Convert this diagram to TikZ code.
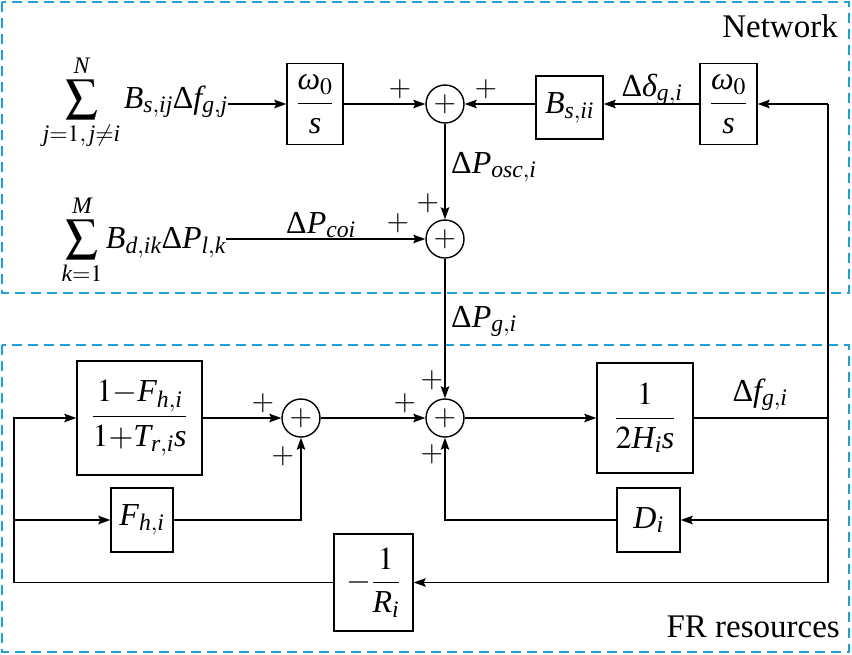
\documentclass[tikz,border=0pt]{standalone}
\usepackage{amsmath}
\usepackage{mathptmx}
\usepackage{fontspec}
\setmainfont{Liberation Serif}
\DeclareSymbolFont{tlet}{TU}{\rmdefault}{m}{it}
\newcommand\deflet[1]{\DeclareMathSymbol{#1}{\mathalpha}{tlet}{`#1}}
\deflet{B}\deflet{s}\deflet{i}\deflet{j}\deflet{f}\deflet{g}\deflet{N}
\deflet{k}\deflet{M}\deflet{d}\deflet{l}\deflet{P}\deflet{o}\deflet{c}
\deflet{F}\deflet{h}\deflet{T}\deflet{r}\deflet{R}\deflet{H}\deflet{D}
\newcommand\gom{\mbox{\itshape ω}}
\newcommand\gdel{\mbox{\itshape δ}}
\newcommand\gDel{\mbox{\upshape Δ}}
\usetikzlibrary{arrows.meta}
\definecolor{dashblue}{RGB}{30,160,220}
\begin{document}
\begin{tikzpicture}[x=1pt,y=-1pt,
  every node/.style={font=\fontsize{32}{38}\selectfont, inner sep=0pt},
  blk/.style={draw, line width=1.4pt},
  sumc/.style={draw, circle, line width=1.4pt, minimum size=38pt, font=\fontsize{29}{34}\selectfont},
  conn/.style={line width=1.4pt},
  arr/.style={conn, -{Stealth[length=12pt,width=8.5pt,inset=2pt]}},
  region/.style={draw=dashblue, line width=2pt, dash pattern=on 10pt off 6pt},
  sgn/.style={font=\fontsize{29}{34}\selectfont},
  lbl/.style={font=\fontsize{33}{40}\selectfont}
]
\useasboundingbox (0,0) rectangle (852,654);
\draw[region] (2,2) rectangle (849,293);
\draw[region] (2,345) rectangle (849,652);
\node[lbl, anchor=base east] (netlbl) at (838,37) {Network};
\node[lbl, anchor=base east] (frlbl) at (840,637) {FR resources};

% summing junctions
\node[sumc] (c1) at (445,104) {$+$};
\node[sumc] (c2) at (445,239) {$+$};
\node[sumc] (c3) at (445,418) {$+$};
\node[sumc] (c4) at (301,418) {$+$};

% blocks
\node[blk, minimum width=56pt, minimum height=81pt] (w1) at (315,104) {$\displaystyle\frac{\gom_0}{s}$};
\node[blk, minimum width=67pt, minimum height=63pt] (Bs) at (569.5,107.5) {$B_{s,ii}$};
\node[blk, minimum width=57pt, minimum height=81pt] (w2) at (728.5,104) {$\displaystyle\frac{\gom_0}{s}$};
\node[blk, minimum width=125pt, minimum height=114pt] (G1) at (139.5,418) {$\displaystyle\frac{1{-}F_{h,i}}{1{+}T_{r,i}s}$};
\node[blk, minimum width=62pt, minimum height=64pt] (Fb) at (142,520) {$F_{h,i}$};
\node[blk, minimum width=79pt, minimum height=97pt] (Rb) at (373.5,582.5) {$-\displaystyle\frac{1}{R_i}$};
\node[blk, minimum width=96pt, minimum height=110pt] (Hb) at (645,418) {$\displaystyle\frac{1}{2H_i s}$};
\node[blk, minimum width=63pt, minimum height=64pt] (Db) at (648.5,520) {$D_i$};

% inputs
\node[anchor=base east] (sum1) at (228,108) {$\displaystyle\sum_{j=1,\,j\neq i}^{N} B_{s,ij}\gDel f_{g,j}$};
\node[anchor=base east] (sum2) at (226,248) {$\displaystyle\sum_{k=1}^{M} B_{d,ik}\gDel P_{l,k}$};

% signal labels
\node[anchor=base] (ldelta) at (652,96) {$\gDel\gdel_{g,i}$};
\node[anchor=base west] (losc) at (451,173) {$\gDel P_{osc,i}$};
\node[anchor=base] (lcoi) at (321,233) {$\gDel P_{coi}$};
\node[anchor=base west] (lpg) at (451,327) {$\gDel P_{g,i}$};
\node[anchor=base] (lfg) at (760,401) {$\gDel f_{g,i}$};

% signs
\node[sgn] (s1) at (400,89) {$+$};
\node[sgn] (s2) at (486,89) {$+$};
\node[sgn] (s3) at (428,203) {$+$};
\node[sgn] (s4) at (398,223) {$+$};
\node[sgn] (s5) at (263,403) {$+$};
\node[sgn] (s6) at (283,456) {$+$};
\node[sgn] (s7) at (405,403) {$+$};
\node[sgn] (s8) at (432,380) {$+$};
\node[sgn] (s9) at (432,454) {$+$};

% routing points
\coordinate (tr) at (828,104);
\coordinate (mr) at (828,418);
\coordinate (dr) at (828,520);
\coordinate (br) at (828,582.5);
\coordinate (tl) at (14,418);
\coordinate (ml) at (14,520);
\coordinate (bl) at (14,582.5);

% connectors
\draw[arr] (sum1.east |- c1) -- (w1.west |- c1);
\draw[arr] (w1.east |- c1) -- (c1.west);
\draw[arr] (Bs.west |- c1) -- (c1.east);
\draw[arr] (w2.west |- c1) -- (Bs.east |- c1);
\draw[arr] (tr) -- (w2.east |- c1);
\draw[conn] (tr) -- (br);
\draw[conn] (Hb.east) -- (mr);
\draw[arr] (c1.south) -- (c2.north);
\draw[arr] (sum2.east |- c2) -- (c2.west);
\draw[arr] (c2.south) -- (c3.north);
\draw[arr] (c3.east) -- (Hb.west);
\draw[arr] (dr) -- (Db.east);
\draw[arr] (Db.west) -| (c3.south);
\draw[arr] (br) -- (Rb.east);
\draw[arr] (Rb.west) -- (bl) -- (tl) -- (G1.west);
\draw[arr] (ml) -- (Fb.west);
\draw[arr] (Fb.east) -| (c4.south);
\draw[arr] (G1.east) -- (c4.west);
\draw[arr] (c4.east) -- (c3.west);
\end{tikzpicture}
\end{document}
